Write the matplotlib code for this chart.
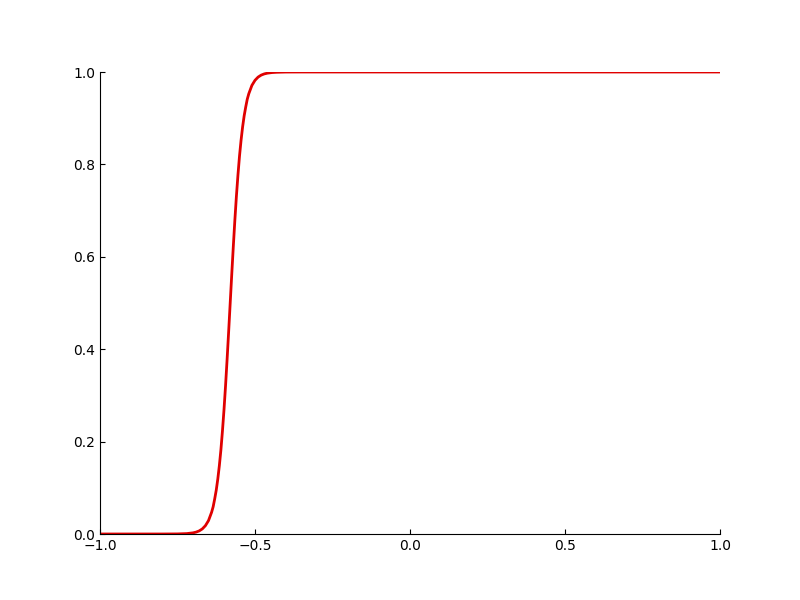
import matplotlib
matplotlib.use("Agg")
import matplotlib.pyplot as plt

x_vals = [-1.0, -0.80, -0.75, -0.72, -0.70, -0.69, -0.68, -0.67, -0.66, -0.65, -0.64, -0.635,
          -0.63, -0.625, -0.62, -0.615, -0.61, -0.605, -0.60, -0.595, -0.59, -0.585, -0.58,
          -0.575, -0.57, -0.565, -0.56, -0.555, -0.55, -0.545, -0.54, -0.535, -0.53, -0.525,
          -0.52, -0.51, -0.50, -0.49, -0.48, -0.47, -0.46, -0.445, -0.43, -0.40, -0.35, -0.30, 0.0, 1.0]
y_vals = [0.0, 0.00001, 0.0002, 0.0009, 0.0025, 0.0041, 0.0067, 0.011, 0.018, 0.029, 0.047, 0.059,
          0.076, 0.095, 0.119, 0.148, 0.182, 0.223, 0.269, 0.321, 0.378, 0.438, 0.500,
          0.562, 0.622, 0.679, 0.731, 0.777, 0.818, 0.852, 0.881, 0.905, 0.924, 0.941,
          0.953, 0.971, 0.982, 0.989, 0.9933, 0.9959, 0.9975, 0.9988, 0.9994, 0.9999, 1.0, 1.0, 1.0, 1.0]

fig, ax = plt.subplots(figsize=(8, 6), dpi=100)
ax.plot(x_vals, y_vals, color='#e00000', linewidth=2)
ax.set_xlim(-1, 1)
ax.set_ylim(0, 1)
ax.set_xticks([-1.0, -0.5, 0.0, 0.5, 1.0])
ax.set_yticks([0.0, 0.2, 0.4, 0.6, 0.8, 1.0])
ax.spines['top'].set_visible(False)
ax.spines['right'].set_visible(False)
ax.tick_params(direction='in', top=False, right=False)
fig.savefig("out.png", dpi=100)
